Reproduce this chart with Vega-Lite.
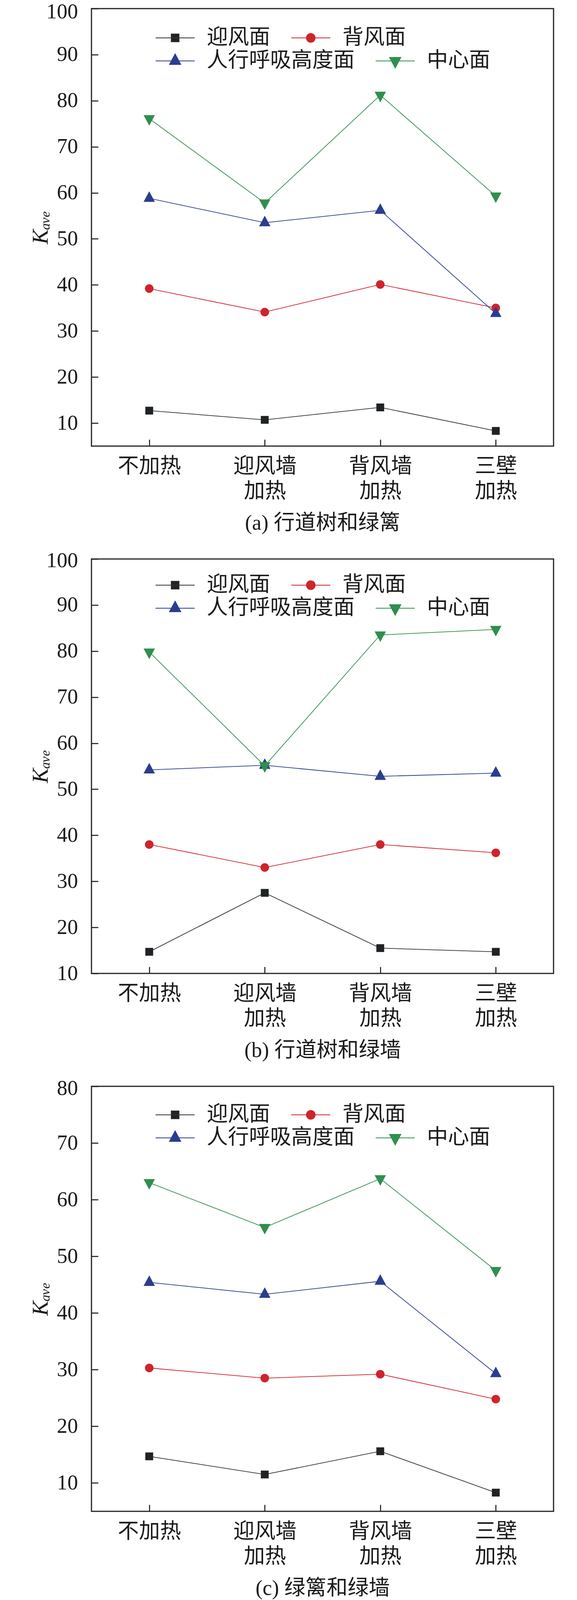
{
  "$schema": "https://vega.github.io/schema/vega-lite/v6.json",
  "autosize": {"type": "none"},
  "padding": {"left": 234, "top": 22, "right": 1242, "bottom": 4077},
  "background": "white",
  "datasets": {
    "d": [
      {"panel": "a", "cond": "不加热", "series": "迎风面", "value": 12.7},
      {"panel": "a", "cond": "迎风墙 加热", "series": "迎风面", "value": 10.7},
      {"panel": "a", "cond": "背风墙 加热", "series": "迎风面", "value": 13.4},
      {"panel": "a", "cond": "三壁 加热", "series": "迎风面", "value": 8.3},
      {"panel": "a", "cond": "不加热", "series": "背风面", "value": 39.2},
      {"panel": "a", "cond": "迎风墙 加热", "series": "背风面", "value": 34.1},
      {"panel": "a", "cond": "背风墙 加热", "series": "背风面", "value": 40.1},
      {"panel": "a", "cond": "三壁 加热", "series": "背风面", "value": 35.0},
      {"panel": "a", "cond": "不加热", "series": "人行呼吸高度面", "value": 58.8},
      {"panel": "a", "cond": "迎风墙 加热", "series": "人行呼吸高度面", "value": 53.5},
      {"panel": "a", "cond": "背风墙 加热", "series": "人行呼吸高度面", "value": 56.2},
      {"panel": "a", "cond": "三壁 加热", "series": "人行呼吸高度面", "value": 33.8},
      {"panel": "a", "cond": "不加热", "series": "中心面", "value": 76.1},
      {"panel": "a", "cond": "迎风墙 加热", "series": "中心面", "value": 57.8},
      {"panel": "a", "cond": "背风墙 加热", "series": "中心面", "value": 81.2},
      {"panel": "a", "cond": "三壁 加热", "series": "中心面", "value": 59.3},
      {"panel": "b", "cond": "不加热", "series": "迎风面", "value": 14.7},
      {"panel": "b", "cond": "迎风墙 加热", "series": "迎风面", "value": 27.5},
      {"panel": "b", "cond": "背风墙 加热", "series": "迎风面", "value": 15.5},
      {"panel": "b", "cond": "三壁 加热", "series": "迎风面", "value": 14.7},
      {"panel": "b", "cond": "不加热", "series": "背风面", "value": 38.0},
      {"panel": "b", "cond": "迎风墙 加热", "series": "背风面", "value": 33.0},
      {"panel": "b", "cond": "背风墙 加热", "series": "背风面", "value": 38.0},
      {"panel": "b", "cond": "三壁 加热", "series": "背风面", "value": 36.2},
      {"panel": "b", "cond": "不加热", "series": "人行呼吸高度面", "value": 54.2},
      {"panel": "b", "cond": "迎风墙 加热", "series": "人行呼吸高度面", "value": 55.2},
      {"panel": "b", "cond": "背风墙 加热", "series": "人行呼吸高度面", "value": 52.8},
      {"panel": "b", "cond": "三壁 加热", "series": "人行呼吸高度面", "value": 53.5},
      {"panel": "b", "cond": "不加热", "series": "中心面", "value": 79.8},
      {"panel": "b", "cond": "迎风墙 加热", "series": "中心面", "value": 55.1},
      {"panel": "b", "cond": "背风墙 加热", "series": "中心面", "value": 83.5},
      {"panel": "b", "cond": "三壁 加热", "series": "中心面", "value": 84.7},
      {"panel": "c", "cond": "不加热", "series": "迎风面", "value": 14.7},
      {"panel": "c", "cond": "迎风墙 加热", "series": "迎风面", "value": 11.5},
      {"panel": "c", "cond": "背风墙 加热", "series": "迎风面", "value": 15.6},
      {"panel": "c", "cond": "三壁 加热", "series": "迎风面", "value": 8.3},
      {"panel": "c", "cond": "不加热", "series": "背风面", "value": 30.3},
      {"panel": "c", "cond": "迎风墙 加热", "series": "背风面", "value": 28.5},
      {"panel": "c", "cond": "背风墙 加热", "series": "背风面", "value": 29.2},
      {"panel": "c", "cond": "三壁 加热", "series": "背风面", "value": 24.8},
      {"panel": "c", "cond": "不加热", "series": "人行呼吸高度面", "value": 45.4},
      {"panel": "c", "cond": "迎风墙 加热", "series": "人行呼吸高度面", "value": 43.3},
      {"panel": "c", "cond": "背风墙 加热", "series": "人行呼吸高度面", "value": 45.6},
      {"panel": "c", "cond": "三壁 加热", "series": "人行呼吸高度面", "value": 29.3},
      {"panel": "c", "cond": "不加热", "series": "中心面", "value": 63.0},
      {"panel": "c", "cond": "迎风墙 加热", "series": "中心面", "value": 55.1},
      {"panel": "c", "cond": "背风墙 加热", "series": "中心面", "value": 63.7},
      {"panel": "c", "cond": "三壁 加热", "series": "中心面", "value": 47.5}
    ]
  },
  "config": {
    "view": {"stroke": "#222222", "strokeWidth": 3},
    "axis": {
      "domain": false,
      "grid": false,
      "tickColor": "#222222",
      "tickWidth": 2.7,
      "tickSize": -17,
      "labelColor": "#1a1a1a",
      "titleColor": "#1a1a1a",
      "titleFontWeight": "normal"
    },
    "axisX": {
      "labelFont": "Noto Sans CJK SC",
      "labelFontSize": 54,
      "labelAngle": 0,
      "labelBaseline": "top",
      "labelPadding": 42,
      "labelLineHeight": 64,
      "labelExpr": "split(datum.value, ' ')",
      "titleFont": "Liberation Serif, Noto Sans CJK SC",
      "titleFontSize": 54,
      "titleY": 197,
      "titleBaseline": "middle"
    },
    "axisY": {
      "labelFont": "Liberation Serif",
      "labelFontSize": 54,
      "labelPadding": 52,
      "titleFont": "Liberation Serif, DejaVu Serif",
      "titleFontSize": 57,
      "titleFontStyle": "italic",
      "titleX": -113,
      "titleBaseline": "alphabetic",
      "titleAngle": 270
    },
    "legend": {
      "title": null,
      "orient": "none",
      "legendX": 164,
      "direction": "horizontal",
      "columns": 0,
      "columnPadding": 50,
      "padding": 0,
      "symbolSize": 1600,
      "symbolStrokeWidth": 2,
      "symbolOpacity": 1,
      "symbolOffset": 23,
      "labelOffset": 54,
      "labelFont": "Noto Sans CJK SC",
      "labelFontSize": 54,
      "labelColor": "#1a1a1a",
      "labelLimit": 1000,
      "labelBaseline": "middle"
    }
  },
  "spacing": 289,
  "bounds": "flush",
  "resolve": {"scale": {"color": "independent", "shape": "independent", "fill": "independent", "stroke": "independent"}},
  "vconcat": [
    {
      "width": 1182,
      "height": 1120,
      "data": {"name": "d"},
      "transform": [{"filter": "datum.panel === 'a'"}],
      "encoding": {
        "x": {"field": "cond", "type": "nominal", "sort": ["不加热", "迎风墙 加热", "背风墙 加热", "三壁 加热"], "scale": {"type": "point", "padding": 0.5}, "axis": {"title": "(a) 行道树和绿篱"}},
        "y": {"field": "value", "type": "quantitative", "scale": {"domain": [5, 100], "nice": false, "zero": false}, "axis": {"values": [10, 20, 30, 40, 50, 60, 70, 80, 90, 100], "title": "Kₐᵥₑ", "labelOffset": {"condition": {"test": "datum.value === 100", "value": 8}, "value": 0}}}
      },
      "layer": [
        {
          "mark": {"type": "line", "strokeWidth": 1.8},
          "encoding": {"color": {"field": "series", "type": "nominal", "legend": null, "scale": {"domain": ["中心面", "人行呼吸高度面", "背风面", "迎风面"], "range": ["#2f8f4e", "#2a3d8f", "#d0232b", "#333333"]}}}
        },
        {"transform": [{"filter": "datum.series === '迎风面'"}], "mark": {"type": "point", "filled": true, "size": 400, "opacity": 1, "color": "#1f2326", "shape": "M-1,-1H1V1H-1Z"}},
        {"transform": [{"filter": "datum.series === '背风面'"}], "mark": {"type": "point", "filled": true, "size": 400, "opacity": 1, "color": "#d0232b", "shape": "M-1.1,0A1.1,1.1,0,1,0,1.1,0A1.1,1.1,0,1,0,-1.1,0Z"}},
        {"transform": [{"filter": "datum.series === '人行呼吸高度面'"}], "mark": {"type": "point", "filled": true, "size": 400, "opacity": 1, "color": "#2a3d8f", "shape": "M0,-1.8L1.45,0.9L-1.45,0.9Z"}},
        {"transform": [{"filter": "datum.series === '中心面'"}], "mark": {"type": "point", "filled": true, "size": 400, "opacity": 1, "color": "#2f8f4e", "shape": "M0,1.8L1.45,-0.9L-1.45,-0.9Z"}},
        {
          "mark": {"type": "point", "filled": true, "opacity": 0},
          "encoding": {
            "shape": {"field": "series", "type": "nominal", "legend": {"legendY": 48, "values": ["迎风面", "背风面"]}, "scale": {"domain": ["迎风面", "背风面", "人行呼吸高度面", "中心面"], "range": ["M-2.5,0H2.5M-0.5,-0.5H0.5V0.5H-0.5Z", "M-2.5,0H2.5M-0.56,0A0.56,0.56,0,1,0,0.56,0A0.56,0.56,0,1,0,-0.56,0Z", "M-2.5,0H2.5M0,-0.9L0.72,0.45L-0.72,0.45Z", "M-2.5,0H2.5M0,0.9L0.72,-0.45L-0.72,-0.45Z"]}},
            "fill": {"field": "series", "type": "nominal", "legend": {"legendY": 48, "values": ["迎风面", "背风面"]}, "scale": {"domain": ["迎风面", "背风面", "人行呼吸高度面", "中心面"], "range": ["#1f2326", "#d0232b", "#2a3d8f", "#2f8f4e"]}},
            "stroke": {"field": "series", "type": "nominal", "legend": {"legendY": 48, "values": ["迎风面", "背风面"]}, "scale": {"domain": ["迎风面", "背风面", "人行呼吸高度面", "中心面"], "range": ["#333333", "#d0232b", "#2a3d8f", "#2f8f4e"]}}
          }
        },
        {
          "mark": {"type": "point", "filled": true, "opacity": 0},
          "encoding": {
            "shape": {"field": "series", "type": "nominal", "legend": {"legendY": 107, "values": ["人行呼吸高度面", "中心面"]}, "scale": {"domain": ["迎风面", "背风面", "人行呼吸高度面", "中心面"], "range": ["M-2.5,0H2.5M-0.5,-0.5H0.5V0.5H-0.5Z", "M-2.5,0H2.5M-0.56,0A0.56,0.56,0,1,0,0.56,0A0.56,0.56,0,1,0,-0.56,0Z", "M-2.5,0H2.5M0,-0.9L0.72,0.45L-0.72,0.45Z", "M-2.5,0H2.5M0,0.9L0.72,-0.45L-0.72,-0.45Z"]}},
            "fill": {"field": "series", "type": "nominal", "legend": {"legendY": 107, "values": ["人行呼吸高度面", "中心面"]}, "scale": {"domain": ["迎风面", "背风面", "人行呼吸高度面", "中心面"], "range": ["#1f2326", "#d0232b", "#2a3d8f", "#2f8f4e"]}},
            "stroke": {"field": "series", "type": "nominal", "legend": {"legendY": 107, "values": ["人行呼吸高度面", "中心面"]}, "scale": {"domain": ["迎风面", "背风面", "人行呼吸高度面", "中心面"], "range": ["#333333", "#d0232b", "#2a3d8f", "#2f8f4e"]}}
          }
        }
      ],
      "resolve": {"scale": {"shape": "independent", "fill": "independent", "stroke": "independent"}}
    },
    {
      "width": 1182,
      "height": 1061,
      "data": {"name": "d"},
      "transform": [{"filter": "datum.panel === 'b'"}],
      "encoding": {
        "x": {"field": "cond", "type": "nominal", "sort": ["不加热", "迎风墙 加热", "背风墙 加热", "三壁 加热"], "scale": {"type": "point", "padding": 0.5}, "axis": {"title": "(b) 行道树和绿墙"}},
        "y": {"field": "value", "type": "quantitative", "scale": {"domain": [10, 100], "nice": false, "zero": false}, "axis": {"values": [10, 20, 30, 40, 50, 60, 70, 80, 90, 100], "title": "Kₐᵥₑ", "labelOffset": {"condition": {"test": "datum.value === 100", "value": 4}, "value": 0}}}
      },
      "layer": [
        {
          "mark": {"type": "line", "strokeWidth": 1.8},
          "encoding": {"color": {"field": "series", "type": "nominal", "legend": null, "scale": {"domain": ["中心面", "人行呼吸高度面", "背风面", "迎风面"], "range": ["#2f8f4e", "#2a3d8f", "#d0232b", "#333333"]}}}
        },
        {"transform": [{"filter": "datum.series === '迎风面'"}], "mark": {"type": "point", "filled": true, "size": 400, "opacity": 1, "color": "#1f2326", "shape": "M-1,-1H1V1H-1Z"}},
        {"transform": [{"filter": "datum.series === '背风面'"}], "mark": {"type": "point", "filled": true, "size": 400, "opacity": 1, "color": "#d0232b", "shape": "M-1.1,0A1.1,1.1,0,1,0,1.1,0A1.1,1.1,0,1,0,-1.1,0Z"}},
        {"transform": [{"filter": "datum.series === '人行呼吸高度面'"}], "mark": {"type": "point", "filled": true, "size": 400, "opacity": 1, "color": "#2a3d8f", "shape": "M0,-1.8L1.45,0.9L-1.45,0.9Z"}},
        {"transform": [{"filter": "datum.series === '中心面'"}], "mark": {"type": "point", "filled": true, "size": 400, "opacity": 1, "color": "#2f8f4e", "shape": "M0,1.8L1.45,-0.9L-1.45,-0.9Z"}},
        {
          "mark": {"type": "point", "filled": true, "opacity": 0},
          "encoding": {
            "shape": {"field": "series", "type": "nominal", "legend": {"legendY": 40, "values": ["迎风面", "背风面"]}, "scale": {"domain": ["迎风面", "背风面", "人行呼吸高度面", "中心面"], "range": ["M-2.5,0H2.5M-0.5,-0.5H0.5V0.5H-0.5Z", "M-2.5,0H2.5M-0.56,0A0.56,0.56,0,1,0,0.56,0A0.56,0.56,0,1,0,-0.56,0Z", "M-2.5,0H2.5M0,-0.9L0.72,0.45L-0.72,0.45Z", "M-2.5,0H2.5M0,0.9L0.72,-0.45L-0.72,-0.45Z"]}},
            "fill": {"field": "series", "type": "nominal", "legend": {"legendY": 40, "values": ["迎风面", "背风面"]}, "scale": {"domain": ["迎风面", "背风面", "人行呼吸高度面", "中心面"], "range": ["#1f2326", "#d0232b", "#2a3d8f", "#2f8f4e"]}},
            "stroke": {"field": "series", "type": "nominal", "legend": {"legendY": 40, "values": ["迎风面", "背风面"]}, "scale": {"domain": ["迎风面", "背风面", "人行呼吸高度面", "中心面"], "range": ["#333333", "#d0232b", "#2a3d8f", "#2f8f4e"]}}
          }
        },
        {
          "mark": {"type": "point", "filled": true, "opacity": 0},
          "encoding": {
            "shape": {"field": "series", "type": "nominal", "legend": {"legendY": 99, "values": ["人行呼吸高度面", "中心面"]}, "scale": {"domain": ["迎风面", "背风面", "人行呼吸高度面", "中心面"], "range": ["M-2.5,0H2.5M-0.5,-0.5H0.5V0.5H-0.5Z", "M-2.5,0H2.5M-0.56,0A0.56,0.56,0,1,0,0.56,0A0.56,0.56,0,1,0,-0.56,0Z", "M-2.5,0H2.5M0,-0.9L0.72,0.45L-0.72,0.45Z", "M-2.5,0H2.5M0,0.9L0.72,-0.45L-0.72,-0.45Z"]}},
            "fill": {"field": "series", "type": "nominal", "legend": {"legendY": 99, "values": ["人行呼吸高度面", "中心面"]}, "scale": {"domain": ["迎风面", "背风面", "人行呼吸高度面", "中心面"], "range": ["#1f2326", "#d0232b", "#2a3d8f", "#2f8f4e"]}},
            "stroke": {"field": "series", "type": "nominal", "legend": {"legendY": 99, "values": ["人行呼吸高度面", "中心面"]}, "scale": {"domain": ["迎风面", "背风面", "人行呼吸高度面", "中心面"], "range": ["#333333", "#d0232b", "#2a3d8f", "#2f8f4e"]}}
          }
        }
      ],
      "resolve": {"scale": {"shape": "independent", "fill": "independent", "stroke": "independent"}}
    },
    {
      "width": 1182,
      "height": 1088,
      "data": {"name": "d"},
      "transform": [{"filter": "datum.panel === 'c'"}],
      "encoding": {
        "x": {"field": "cond", "type": "nominal", "sort": ["不加热", "迎风墙 加热", "背风墙 加热", "三壁 加热"], "scale": {"type": "point", "padding": 0.5}, "axis": {"title": "(c) 绿篱和绿墙"}},
        "y": {"field": "value", "type": "quantitative", "scale": {"domain": [5, 80], "nice": false, "zero": false}, "axis": {"values": [10, 20, 30, 40, 50, 60, 70, 80], "title": "Kₐᵥₑ", "labelOffset": {"condition": {"test": "datum.value === 80", "value": 5}, "value": 0}}}
      },
      "layer": [
        {
          "mark": {"type": "line", "strokeWidth": 1.8},
          "encoding": {"color": {"field": "series", "type": "nominal", "legend": null, "scale": {"domain": ["中心面", "人行呼吸高度面", "背风面", "迎风面"], "range": ["#2f8f4e", "#2a3d8f", "#d0232b", "#333333"]}}}
        },
        {"transform": [{"filter": "datum.series === '迎风面'"}], "mark": {"type": "point", "filled": true, "size": 400, "opacity": 1, "color": "#1f2326", "shape": "M-1,-1H1V1H-1Z"}},
        {"transform": [{"filter": "datum.series === '背风面'"}], "mark": {"type": "point", "filled": true, "size": 400, "opacity": 1, "color": "#d0232b", "shape": "M-1.1,0A1.1,1.1,0,1,0,1.1,0A1.1,1.1,0,1,0,-1.1,0Z"}},
        {"transform": [{"filter": "datum.series === '人行呼吸高度面'"}], "mark": {"type": "point", "filled": true, "size": 400, "opacity": 1, "color": "#2a3d8f", "shape": "M0,-1.8L1.45,0.9L-1.45,0.9Z"}},
        {"transform": [{"filter": "datum.series === '中心面'"}], "mark": {"type": "point", "filled": true, "size": 400, "opacity": 1, "color": "#2f8f4e", "shape": "M0,1.8L1.45,-0.9L-1.45,-0.9Z"}},
        {
          "mark": {"type": "point", "filled": true, "opacity": 0},
          "encoding": {
            "shape": {"field": "series", "type": "nominal", "legend": {"legendY": 46, "values": ["迎风面", "背风面"]}, "scale": {"domain": ["迎风面", "背风面", "人行呼吸高度面", "中心面"], "range": ["M-2.5,0H2.5M-0.5,-0.5H0.5V0.5H-0.5Z", "M-2.5,0H2.5M-0.56,0A0.56,0.56,0,1,0,0.56,0A0.56,0.56,0,1,0,-0.56,0Z", "M-2.5,0H2.5M0,-0.9L0.72,0.45L-0.72,0.45Z", "M-2.5,0H2.5M0,0.9L0.72,-0.45L-0.72,-0.45Z"]}},
            "fill": {"field": "series", "type": "nominal", "legend": {"legendY": 46, "values": ["迎风面", "背风面"]}, "scale": {"domain": ["迎风面", "背风面", "人行呼吸高度面", "中心面"], "range": ["#1f2326", "#d0232b", "#2a3d8f", "#2f8f4e"]}},
            "stroke": {"field": "series", "type": "nominal", "legend": {"legendY": 46, "values": ["迎风面", "背风面"]}, "scale": {"domain": ["迎风面", "背风面", "人行呼吸高度面", "中心面"], "range": ["#333333", "#d0232b", "#2a3d8f", "#2f8f4e"]}}
          }
        },
        {
          "mark": {"type": "point", "filled": true, "opacity": 0},
          "encoding": {
            "shape": {"field": "series", "type": "nominal", "legend": {"legendY": 105, "values": ["人行呼吸高度面", "中心面"]}, "scale": {"domain": ["迎风面", "背风面", "人行呼吸高度面", "中心面"], "range": ["M-2.5,0H2.5M-0.5,-0.5H0.5V0.5H-0.5Z", "M-2.5,0H2.5M-0.56,0A0.56,0.56,0,1,0,0.56,0A0.56,0.56,0,1,0,-0.56,0Z", "M-2.5,0H2.5M0,-0.9L0.72,0.45L-0.72,0.45Z", "M-2.5,0H2.5M0,0.9L0.72,-0.45L-0.72,-0.45Z"]}},
            "fill": {"field": "series", "type": "nominal", "legend": {"legendY": 105, "values": ["人行呼吸高度面", "中心面"]}, "scale": {"domain": ["迎风面", "背风面", "人行呼吸高度面", "中心面"], "range": ["#1f2326", "#d0232b", "#2a3d8f", "#2f8f4e"]}},
            "stroke": {"field": "series", "type": "nominal", "legend": {"legendY": 105, "values": ["人行呼吸高度面", "中心面"]}, "scale": {"domain": ["迎风面", "背风面", "人行呼吸高度面", "中心面"], "range": ["#333333", "#d0232b", "#2a3d8f", "#2f8f4e"]}}
          }
        }
      ],
      "resolve": {"scale": {"shape": "independent", "fill": "independent", "stroke": "independent"}}
    }
  ]
}
